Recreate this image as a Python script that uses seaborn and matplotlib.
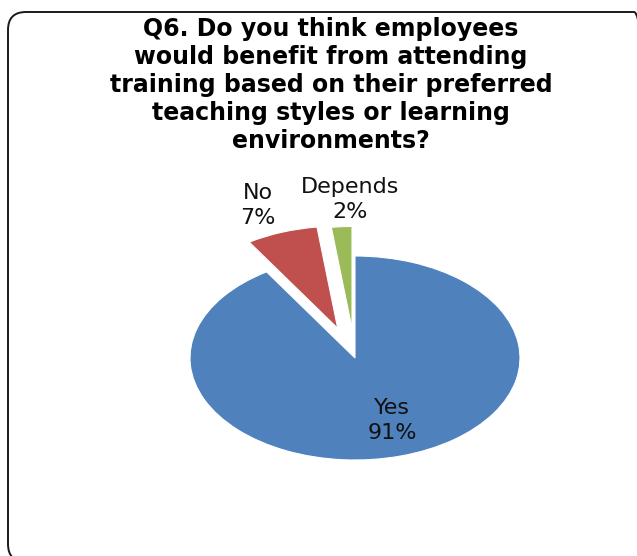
import numpy as np
import matplotlib
matplotlib.use("Agg")
import matplotlib.pyplot as plt
from matplotlib.patches import FancyBboxPatch
from matplotlib.transforms import IdentityTransform
import seaborn as sns

# ---- data ----
categories = ["Yes", "No", "Depends"]
values = [91, 7, 2]
pct_labels = ["91%", "7%", "2%"]
title_lines = [
    "Q6. Do you think employees",
    "would benefit from attending",
    "training based on their preferred",
    "teaching styles or learning",
    "environments?",
]

# ---- style ----
explode = [0.0, 0.31, 0.29]
colors = ["#4F81BD", "#C0504D", "#9BBB59"]
label_dist = [0.64, 1.28, 1.28]
label_shift_px = [(8, 0), (-8, 0), (11, -1)]

sns.set_theme(style="white")
plt.rcParams['font.family'] = ['DejaVu Sans']

W, H = 637, 556
fig = plt.figure(figsize=(W / 100, H / 100), dpi=100)
fig.patch.set_facecolor("white")

# pie is drawn as an ellipse (stretched horizontally), like the reference
cx, cy = 355, 358      # centre in pixels from top-left
rx, ry = 165, 102      # radius in pixels
xlim = (-1.5, 1.5)
ylim = (-1.2, 1.6)
left = cx + xlim[0] * rx
right = cx + xlim[1] * rx
top_px = cy - ylim[1] * ry
bottom_px = cy - ylim[0] * ry
ax = fig.add_axes([left / W, (H - bottom_px) / H, (right - left) / W, (bottom_px - top_px) / H])

wedges, _ = ax.pie(values, explode=explode, colors=colors, startangle=90,
                   counterclock=False,
                   wedgeprops=dict(edgecolor="white", linewidth=0.8))
ax.set_aspect("auto")
ax.set_xlim(xlim)
ax.set_ylim(ylim)
ax.axis("off")

for w, cat, p, d, sh in zip(wedges, categories, pct_labels, label_dist, label_shift_px):
    mid = np.deg2rad((w.theta1 + w.theta2) / 2)
    x = w.center[0] + d * np.cos(mid)
    y = w.center[1] + d * np.sin(mid)
    ax.annotate(f"{cat}\n{p}", xy=(x, y), xytext=sh, textcoords="offset pixels",
                ha="center", va="center", fontsize=16, linespacing=1.32,
                color="#111111")

fig.text(331 / W, 1 - 17 / H, "\n".join(title_lines), ha="center", va="top",
         fontsize=17, fontweight="bold", linespacing=1.21, color="black",
         multialignment="center")

# rounded frame, partly running off the right and bottom edges
frame = FancyBboxPatch((8, H - 562), 652 - 8, 562 - 12,
                       boxstyle="round,pad=0,rounding_size=18",
                       transform=IdentityTransform(), facecolor="none",
                       edgecolor="#1a1a1a", linewidth=1.4)
fig.add_artist(frame)

fig.savefig("out.png", dpi=100, facecolor="white")
